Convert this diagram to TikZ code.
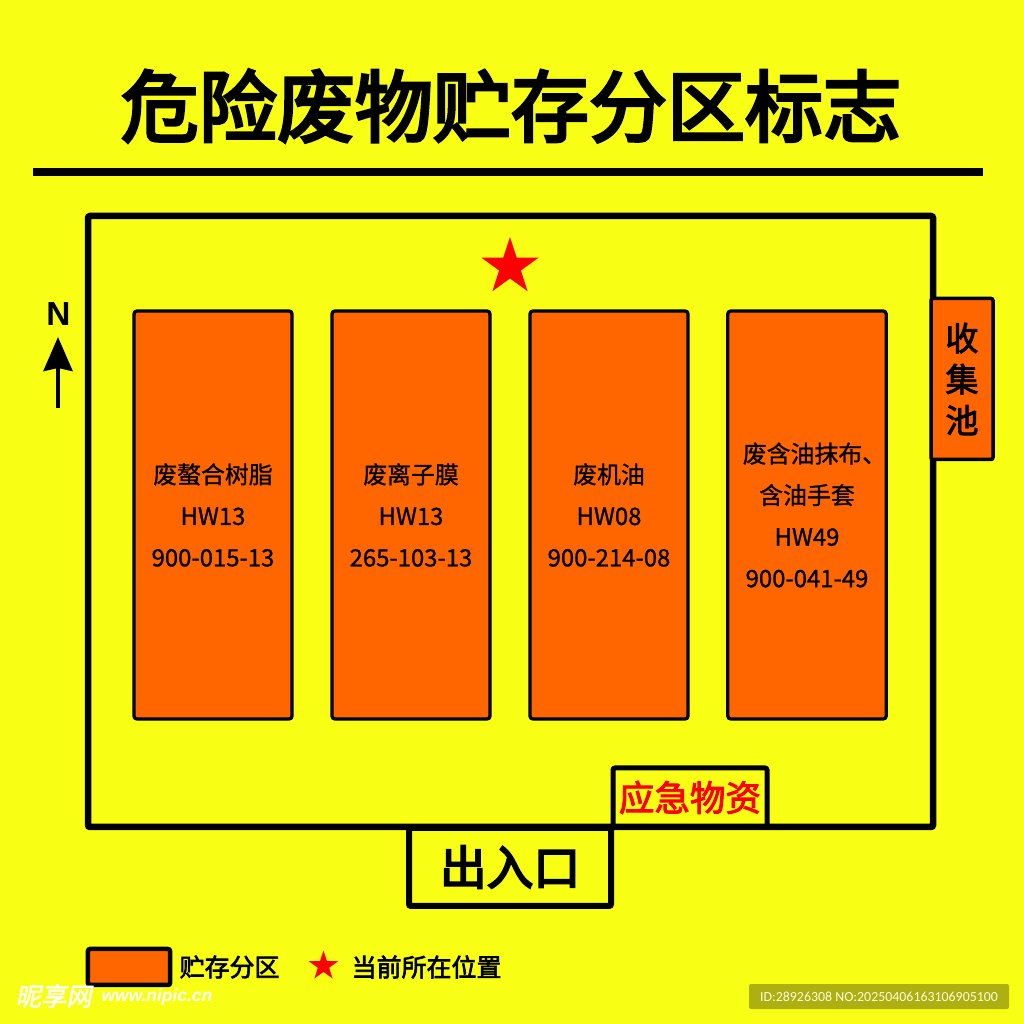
\documentclass[tikz,border=0pt]{standalone}
\usepackage{fontspec}
\setmainfont{Liberation Sans}
\newfontfamily\cjk[FakeBold=4]{Noto Sans CJK SC}
\newfontfamily\cjkmid[FakeBold=1.0]{Noto Sans CJK SC}
\newfontfamily\cjkheavy[FakeBold=2.6]{Noto Sans CJK SC}
\newfontfamily\cjkslant[FakeSlant=0.2,FakeBold=1.5]{Noto Sans CJK SC}
\newfontfamily\stampfont{Carlito}
\usetikzlibrary{arrows.meta,shapes.geometric}
\definecolor{signyellow}{HTML}{F9FF14}
\definecolor{zoneorange}{HTML}{FF6600}
\definecolor{stampolive}{HTML}{AEAF10}
\tikzset{
	zonebox/.style={draw=black, fill=zoneorange, line width=0.33mm, rounded corners=0.3mm, inner sep=0pt, minimum width=1.58cm, minimum height=4.08cm, align=center, font=\cjkmid\fontsize{6.8}{11.8}\selectfont},
	wallbox/.style={draw=black, line width=0.5mm, inner sep=0pt, rounded corners=0.2mm},
	redstar/.style={star, star points=5, star point ratio=2.618, fill=red, inner sep=0pt},
	legendtext/.style={inner sep=0pt, font=\cjkheavy\fontsize{7.1}{9}\selectfont},
}

\begin{document}
\begin{tikzpicture}
		%%%%% START %%%%%
		
		\useasboundingbox (0, 0) rectangle (10.24, 10.24);
		\fill[signyellow] (0, 0) rectangle (10.24, 10.24);
		
		\node[font=\cjk\fontsize{22.2}{24}\selectfont] (title) at (5.11, 9.18) {危险废物贮存分区标志};
		\draw[fill=black, draw=none] (0.33, 8.48) rectangle (9.83, 8.56);
		
		\draw[line width=0.65mm, rounded corners=0.2mm] (0.88, 8.08) rectangle (9.33, 1.97);
		
		\node[redstar, minimum size=0.6cm] (herestar) at (5.10, 7.57) {};
		
		\node[font=\bfseries\fontsize{9.5}{12}\selectfont] (north) at (0.585, 7.10) {N};
		\coordinate (arrowtail) at (0.58, 6.16);
		\coordinate (arrowtip) at (0.58, 6.87);
		\draw[line width=0.4mm, -{Stealth[length=0.34cm, width=0.29cm, inset=0.03cm]}] (arrowtail) -- (arrowtip);
		
		\node[zonebox] (zonea) at (2.13, 5.09) {废螯合树脂\\HW13\\900-015-13};
		\node[zonebox] (zoneb) at (4.11, 5.09) {废离子膜\\HW13\\265-103-13};
		\node[zonebox] (zonec) at (6.09, 5.09) {废机油\\HW08\\900-214-08};
		\node[zonebox] (zoned) at (8.07, 5.09) {\hspace{0.15cm}废含油抹布、\\含油手套\\HW49\\900-041-49};
		
		\node[draw=black, fill=zoneorange, line width=0.35mm, rounded corners=0.2mm, inner sep=0pt, minimum width=0.62cm, minimum height=1.61cm, align=center, font=\cjkheavy\fontsize{9.4}{11.7}\selectfont] (pool) at (9.62, 6.45) {收\\集\\池};
		
		\node[wallbox, line width=0.6mm, minimum width=2.02cm, minimum height=0.78cm, font=\cjk\fontsize{13.3}{15}\selectfont] (gate) at (5.10, 1.57) {出入口};
		\node[wallbox, minimum width=1.54cm, minimum height=0.59cm, text=red, font=\cjkheavy\fontsize{10.1}{12}\selectfont] (supplies) at (6.90, 2.265) {应急物资};
		
		\node[draw=black, fill=zoneorange, line width=0.45mm, rounded corners=0.2mm, inner sep=0pt, minimum width=0.82cm, minimum height=0.36cm] (legendbox) at (1.29, 0.57) {};
		\node[legendtext, anchor=west] (legendzone) at (1.79, 0.57) {贮存分区};
		\node[redstar, minimum size=0.31cm] (legendstar) at (3.235, 0.58) {};
		\node[legendtext, anchor=west] (legendhere) at (3.51, 0.57) {当前所在位置};
		
		\node[white, anchor=west, inner sep=0pt, font=\cjkslant\fontsize{7.2}{9}\selectfont] (markcn) at (0.15, 0.28) {昵享网};
		\node[white, anchor=west, inner sep=0pt, font=\bfseries\itshape\fontsize{4.95}{6}\selectfont] (markweb) at (1.01, 0.265) {www.nipic.cn};
		
		\node[fill=stampolive, rounded corners=0.2mm, minimum width=2.60cm, minimum height=0.25cm, inner sep=0pt, text=white!88!yellow, font=\stampfont\fontsize{3.95}{5}\selectfont] (stamp) at (8.79, 0.275) {ID:28926308 NO:20250406163106905100};
		
		%%%%% END %%%%%
	\end{tikzpicture}
\end{document}
